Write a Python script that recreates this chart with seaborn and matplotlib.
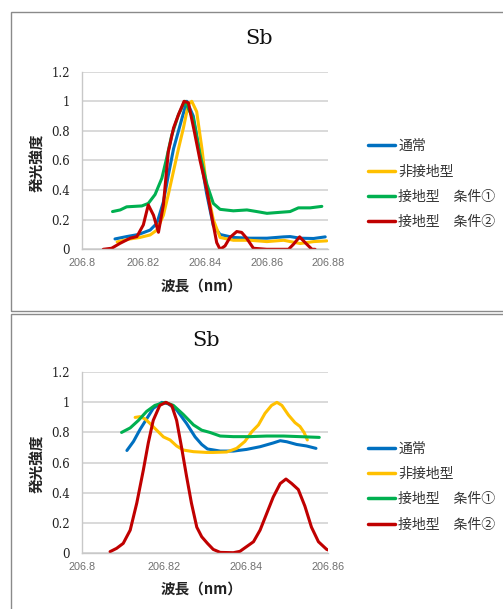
import numpy as np
import pandas as pd
import matplotlib
matplotlib.use("Agg")
import matplotlib.pyplot as plt
import seaborn as sns
from matplotlib.patches import Rectangle

# ---------------- data ----------------
series_names = ["通常", "非接地型", "接地型　条件①", "接地型　条件②"]
series_colors = ["#0070C0", "#FFC000", "#00B050", "#C00000"]
title_text = "Sb"
xlabel_text = "波長（nm）"
ylabel_text = "発光強度"

y_ticks = [0, 0.2, 0.4, 0.6, 0.8, 1.0, 1.2]
y_ticklabels = ["0", "0.2", "0.4", "0.6", "0.8", "1", "1.2"]

top_x_ticks = [206.80, 206.82, 206.84, 206.86, 206.88]
top_x_ticklabels = ["206.8", "206.82", "206.84", "206.86", "206.88"]
bot_x_ticks = [206.80, 206.82, 206.84, 206.86]
bot_x_ticklabels = ["206.8", "206.82", "206.84", "206.86"]

# --- top chart ---
top_normal_x = [206.8108, 206.8146, 206.8184, 206.8222, 206.8244, 206.8265, 206.8281, 206.8298,
                206.8314, 206.8330, 206.8341, 206.8362, 206.8384, 206.8405, 206.8427, 206.8449,
                206.8492, 206.8546, 206.8601, 206.8655, 206.8676, 206.8709, 206.8752, 206.8790]
top_normal_y = [0.07, 0.086, 0.10, 0.13, 0.176, 0.32, 0.50, 0.68,
                0.80, 0.92, 1.0, 0.90, 0.64, 0.38, 0.16, 0.10,
                0.08, 0.075, 0.075, 0.084, 0.086, 0.075, 0.073, 0.084]

top_nonground_x = [206.8115, 206.8157, 206.8189, 206.8222, 206.8244, 206.8265, 206.8281, 206.8298,
                   206.8314, 206.8330, 206.8346, 206.8357, 206.8373, 206.8390, 206.8405, 206.8427,
                   206.8449, 206.8492, 206.8546, 206.8601, 206.8655, 206.8709, 206.8752, 206.8795]
top_nonground_y = [0.05, 0.07, 0.08, 0.097, 0.13, 0.23, 0.37, 0.53,
                   0.68, 0.82, 0.98, 1.0, 0.93, 0.68, 0.42, 0.20,
                   0.08, 0.061, 0.061, 0.052, 0.061, 0.039, 0.052, 0.057]

top_cond1_x = [206.8100, 206.8125, 206.8146, 206.8195, 206.8216, 206.8238, 206.8260, 206.8276,
               206.8292, 206.8314, 206.8335, 206.8362, 206.8384, 206.8406, 206.8427, 206.8449,
               206.8492, 206.8536, 206.8568, 206.8601, 206.8644, 206.8676, 206.8703, 206.8741, 206.8779]
top_cond1_y = [0.255, 0.266, 0.287, 0.293, 0.31, 0.37, 0.48, 0.62,
               0.77, 0.91, 1.0, 0.88, 0.64, 0.44, 0.31, 0.27,
               0.26, 0.266, 0.255, 0.243, 0.25, 0.255, 0.28, 0.28, 0.29]

top_cond2_x = [206.8070, 206.8097, 206.8124, 206.8157, 206.8179, 206.8200, 206.8216, 206.8233,
               206.8249, 206.8265, 206.8281, 206.8298, 206.8314, 206.8332, 206.8346, 206.8365,
               206.8384, 206.8406, 206.8422, 206.8438, 206.8449, 206.8465, 206.8481, 206.8503,
               206.8519, 206.8535, 206.8557, 206.8600, 206.8671, 206.8687, 206.8707, 206.8725,
               206.8747, 206.8757]
top_cond2_y = [0.0, 0.007, 0.04, 0.075, 0.086, 0.165, 0.30, 0.23,
               0.115, 0.30, 0.66, 0.82, 0.91, 1.0, 0.99, 0.80,
               0.60, 0.40, 0.22, 0.045, 0.0, 0.023, 0.08, 0.12,
               0.114, 0.075, 0.007, 0.0, 0.0, 0.034, 0.084, 0.045,
               0.0, 0.0]

# --- bottom chart ---
bot_normal_x = [206.8110, 206.8126, 206.8142, 206.8158, 206.8174, 206.8195, 206.8211, 206.8231,
                206.8255, 206.8276, 206.8292, 206.8306, 206.8337, 206.8369, 206.8401, 206.8434,
                206.8466, 206.8483, 206.8499, 206.8523, 206.8547, 206.8570]
bot_normal_y = [0.68, 0.74, 0.82, 0.89, 0.96, 1.0, 0.99, 0.95,
                0.86, 0.77, 0.72, 0.69, 0.676, 0.676, 0.687, 0.705,
                0.73, 0.745, 0.738, 0.72, 0.71, 0.694]

bot_nonground_x = [206.8130, 206.8142, 206.8154, 206.8166, 206.8182, 206.8199, 206.8215, 206.8231,
                   206.8247, 206.8272, 206.8304, 206.8320, 206.8353, 206.8377, 206.8397, 206.8414,
                   206.8430, 206.8446, 206.8462, 206.8475, 206.8487, 206.8503, 206.8519, 206.8531,
                   206.8541, 206.8549]
bot_nonground_y = [0.90, 0.905, 0.89, 0.86, 0.816, 0.77, 0.75, 0.71,
                   0.683, 0.672, 0.667, 0.667, 0.67, 0.694, 0.74, 0.805,
                   0.85, 0.927, 0.98, 1.0, 0.98, 0.916, 0.865, 0.84,
                   0.80, 0.75]

bot_cond1_x = [206.8097, 206.8118, 206.8138, 206.8158, 206.8178, 206.8203, 206.8223, 206.8247,
               206.8272, 206.8292, 206.8312, 206.8337, 206.8369, 206.8409, 206.8450, 206.8491,
               206.8531, 206.8578]
bot_cond1_y = [0.80, 0.83, 0.88, 0.94, 0.98, 1.0, 0.98, 0.92,
               0.85, 0.815, 0.80, 0.776, 0.772, 0.772, 0.776, 0.776,
               0.772, 0.767]

bot_cond2_x = [206.8069, 206.8085, 206.8101, 206.8118, 206.8134, 206.8150, 206.8162, 206.8174,
               206.8190, 206.8205, 206.8219, 206.8231, 206.8243, 206.8255, 206.8267, 206.8280,
               206.8292, 206.8306, 206.8320, 206.8337, 206.8369, 206.8385, 206.8401, 206.8418,
               206.8434, 206.8450, 206.8466, 206.8483, 206.8497, 206.8511, 206.8527, 206.8543,
               206.8559, 206.8576, 206.8596, 206.8600]
bot_cond2_y = [0.007, 0.029, 0.062, 0.15, 0.33, 0.55, 0.73, 0.88,
               0.98, 1.0, 0.98, 0.88, 0.70, 0.51, 0.33, 0.17,
               0.106, 0.062, 0.022, 0.002, 0.0, 0.009, 0.04, 0.073,
               0.15, 0.26, 0.37, 0.46, 0.49, 0.46, 0.42, 0.31,
               0.17, 0.073, 0.022, 0.018]


def make_df(xs, ys):
    frames = []
    for name, x, y in zip(series_names, xs, ys):
        frames.append(pd.DataFrame({"wavelength": x, "intensity": y, "series": name}))
    return pd.concat(frames, ignore_index=True)


top_df = make_df([top_normal_x, top_nonground_x, top_cond1_x, top_cond2_x],
                 [top_normal_y, top_nonground_y, top_cond1_y, top_cond2_y])
bot_df = make_df([bot_normal_x, bot_nonground_x, bot_cond1_x, bot_cond2_x],
                 [bot_normal_y, bot_nonground_y, bot_cond1_y, bot_cond2_y])

# ---------------- style ----------------
sns.set_style("white")
plt.rcParams["font.family"] = ["Noto Sans CJK JP", "DejaVu Sans"]

W, H = 503, 609
fig = plt.figure(figsize=(W / 100, H / 100), dpi=100)
fig.patch.set_facecolor("white")

def fx(px):
    return px / W

def fy(py):
    return 1 - py / H

# panel frames
fig.add_artist(Rectangle((fx(10.7), fy(310.7)), 1.2, (310.7 - 11.7) / H, transform=fig.transFigure,
                         fill=False, edgecolor="#8a8a8a", linewidth=1.0))
fig.add_artist(Rectangle((fx(10.7), -0.2), 1.2, 0.2 + fy(314.3), transform=fig.transFigure,
                         fill=False, edgecolor="#8a8a8a", linewidth=1.0))

panels = [
    dict(df=top_df, ax_top=71.7, ax_bot=249.3, xlim=(206.80, 206.88), xt=top_x_ticks,
         xtl=top_x_ticklabels, title_xy=(259, 38), leg_top=139.0, ylab_y=163),
    dict(df=bot_df, ax_top=372.3, ax_bot=552.7, xlim=(206.80, 206.86), xt=bot_x_ticks,
         xtl=bot_x_ticklabels, title_xy=(205.7, 341), leg_top=441.5, ylab_y=464),
]

ax_left, ax_right = 81.7, 328.3

for p in panels:
    hgt = p["ax_bot"] - p["ax_top"]
    ax = fig.add_axes([fx(ax_left), fy(p["ax_bot"]), (ax_right - ax_left) / W, hgt / H])
    sns.lineplot(data=p["df"], x="wavelength", y="intensity", hue="series",
                 hue_order=series_names, palette=series_colors, estimator=None,
                 sort=False, linewidth=2.2, ax=ax, legend=True)
    ax.set_xlim(*p["xlim"])
    ax.set_ylim(0, 1.2)
    ax.set_yticks(y_ticks)
    ax.set_yticklabels(y_ticklabels, fontfamily="DejaVu Serif", fontsize=8.5, color="#222222")
    ax.set_xticks(p["xt"])
    ax.set_xticklabels(p["xtl"], fontfamily="Liberation Sans", fontsize=7.8, color="#707070")
    ax.tick_params(axis="y", length=0, pad=8.5)
    ax.tick_params(axis="x", length=3, width=0.8, color="#bfbfbf", pad=3.5, direction="out")
    ax.grid(axis="y", color="#d0d0d0", linewidth=1.1)
    ax.set_axisbelow(True)
    for s in ["top", "right"]:
        ax.spines[s].set_visible(False)
    for s in ["left", "bottom"]:
        ax.spines[s].set_color("#c8c8c8")
        ax.spines[s].set_linewidth(1.0)
    ax.set_xlabel(xlabel_text, fontsize=10.5, fontweight="bold", color="#222222", va="center")
    ax.xaxis.set_label_coords((202 - ax_left) / (ax_right - ax_left), -(36 / hgt))
    ax.set_ylabel(ylabel_text, fontsize=10.5, fontweight="bold", color="#222222",
                  va="center", ha="center")
    ax.yaxis.set_label_coords((37 - ax_left) / (ax_right - ax_left),
                              (p["ax_bot"] - p["ylab_y"]) / hgt)

    handles, labels = ax.get_legend_handles_labels()
    ax.get_legend().remove()
    for h in handles:
        h.set_linewidth(2.5)
    fig.legend(handles, labels, loc="upper left",
               bbox_to_anchor=(fx(368), fy(p["leg_top"])), bbox_transform=fig.transFigure,
               frameon=False, fontsize=10, borderpad=0, borderaxespad=0,
               handlelength=1.95, handletextpad=0.22, labelspacing=0.82,
               labelcolor="#333333")
    fig.text(fx(p["title_xy"][0]), fy(p["title_xy"][1]), title_text, ha="center", va="center",
             fontfamily="DejaVu Serif", fontsize=15, color="#111111")

fig.savefig("out.png", dpi=100, facecolor="white")
